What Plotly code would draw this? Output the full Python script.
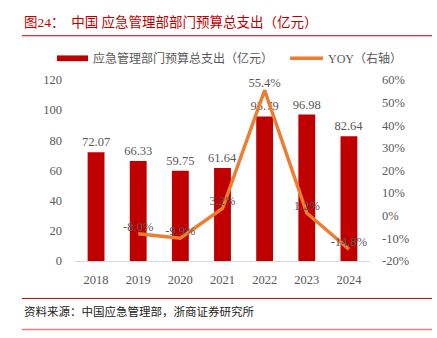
import plotly.graph_objects as go

years = ["2018", "2019", "2020", "2021", "2022", "2023", "2024"]
spend = [72.07, 66.33, 59.75, 61.64, 95.79, 96.98, 82.64]
yoy = [None, -8.0, -9.9, 3.2, 55.4, 1.2, -14.8]
bar_labels = ["72.07", "66.33", "59.75", "61.64", "95.79", "96.98", "82.64"]
yoy_labels = ["", "-8.0%", "-9.9%", "3.2%", "55.4%", "1.2%", "-14.8%"]
left_ticks = [0, 20, 40, 60, 80, 100, 120]
right_ticks = [-20, -10, 0, 10, 20, 30, 40, 50, 60]
right_tick_text = [f"{v}%" for v in right_ticks]

W, H = 437, 338
FONT = "Liberation Serif, Times New Roman, Noto Sans CJK SC, serif"
GRAY = "#595959"
BAR = "#C00000"
LINE = "#ED7D31"

def px(x):
    return x / W

def py(y):
    return (H - y) / H

fig = go.Figure()
fig.add_trace(go.Bar(
    x=years, y=spend, name="应急管理部门预算总支出（亿元）",
    marker=dict(color=BAR, line=dict(width=0)), width=0.4,
    text=bar_labels, textposition="outside", cliponaxis=False, constraintext="none",
    textfont=dict(family=FONT, size=12.5, color=GRAY),
    showlegend=False,
))
fig.add_trace(go.Scatter(
    x=years, y=yoy, name="YOY（右轴）", yaxis="y2", mode="lines+text",
    line=dict(color=LINE, width=3.5), text=yoy_labels, textposition="top center",
    textfont=dict(family=FONT, size=12.5, color=GRAY), cliponaxis=False,
    showlegend=False,
))

shapes = [
    dict(type="line", xref="paper", yref="paper", x0=px(22), x1=px(432), y0=py(30), y1=py(30),
         line=dict(color="#C00000", width=1)),
    dict(type="line", xref="paper", yref="paper", x0=px(22), x1=px(432), y0=py(304), y1=py(304),
         line=dict(color="#C00000", width=1)),
    dict(type="line", xref="paper", yref="paper", x0=px(22), x1=px(432), y0=py(336.5), y1=py(336.5),
         line=dict(color="#E08080", width=1.5)),
    # legend swatches
    dict(type="rect", xref="paper", yref="paper", x0=px(57), x1=px(88), y0=py(56.5), y1=py(50.5),
         fillcolor=BAR, line=dict(width=0)),
    dict(type="line", xref="paper", yref="paper", x0=px(290), x1=px(323), y0=py(53.5), y1=py(53.5),
         line=dict(color=LINE, width=3.5)),
]

annotations = [
    dict(text="图24：  中国 应急管理部部门预算总支出（亿元）", x=px(22), y=py(16), xref="paper", yref="paper",
         xanchor="left", yanchor="middle", showarrow=False,
         font=dict(family=FONT, size=13.5, color="#C00000")),
    dict(text="应急管理部门预算总支出（亿元）", x=px(91), y=py(53.5), xref="paper", yref="paper",
         xanchor="left", yanchor="middle", showarrow=False,
         font=dict(family=FONT, size=12, color=GRAY)),
    dict(text="YOY（右轴）", x=px(326), y=py(53.5), xref="paper", yref="paper",
         xanchor="left", yanchor="middle", showarrow=False,
         font=dict(family=FONT, size=12, color=GRAY)),
    dict(text="资料来源：中国应急管理部，浙商证券研究所", x=px(22), y=py(318), xref="paper", yref="paper",
         xanchor="left", yanchor="middle", showarrow=False,
         font=dict(family=FONT, size=11.5, color="#222222")),
]

fig.update_layout(
    width=W, height=H, margin=dict(l=0, r=0, t=0, b=0),
    paper_bgcolor="white", plot_bgcolor="white",
    shapes=shapes, annotations=annotations, bargap=0.6,
    xaxis=dict(domain=[px(75), px(370)], type="category", showgrid=False,
               showline=True, linecolor="#D9D9D9", linewidth=1, ticks="",
               ticklabelstandoff=7,
               tickfont=dict(family=FONT, size=12.5, color=GRAY)),
    yaxis=dict(domain=[py(265), py(76)], range=[0, 120], tickvals=left_ticks,
               showgrid=False, zeroline=False, showline=False, ticks="",
               ticklabelstandoff=12,
               tickfont=dict(family=FONT, size=12.5, color=GRAY)),
    yaxis2=dict(overlaying="y", side="right", range=[-20, 60], tickvals=right_ticks,
                ticktext=right_tick_text, showgrid=False, zeroline=False, showline=False,
                ticks="", ticklabelstandoff=11,
                anchor="x", tickfont=dict(family=FONT, size=12.5, color=GRAY)),
)

fig.write_html("out.html")
